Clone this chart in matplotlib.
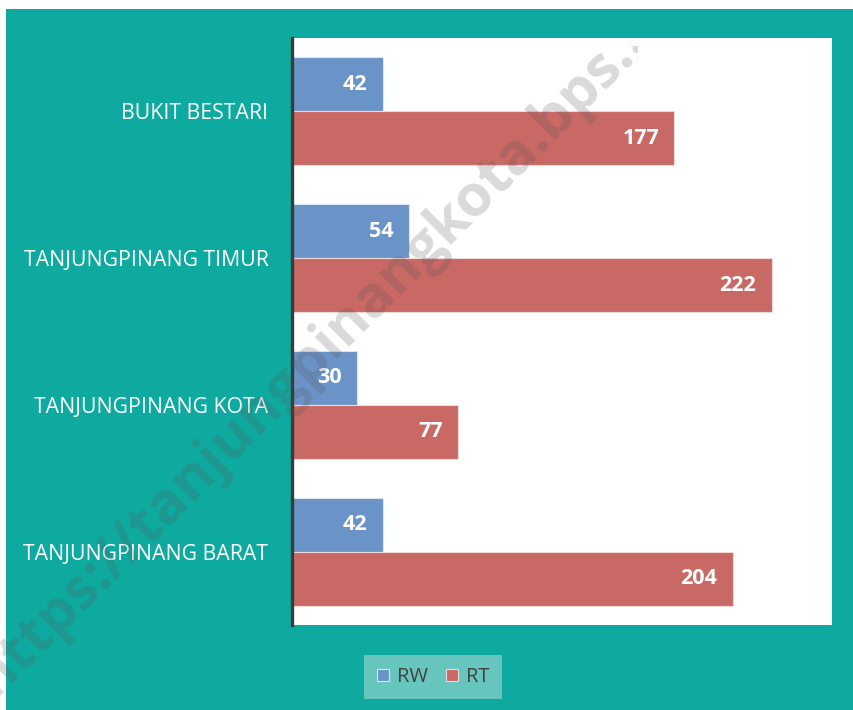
import matplotlib.pyplot as plt
from matplotlib.patches import Rectangle
from matplotlib.font_manager import FontProperties
from matplotlib.transforms import Bbox, TransformedBbox
import numpy as np

# Data
kecamatan = ["BUKIT BESTARI", "TANJUNGPINANG TIMUR",
             "TANJUNGPINANG KOTA", "TANJUNGPINANG BARAT"]
rw = [42, 54, 30, 42]
rt = [177, 222, 77, 204]

teal = "#0eaaa0"
blue = "#6a93c8"
red = "#c96965"

plt.rcParams['font.family'] = ['Open Sans', 'DejaVu Sans']

fig = plt.figure(figsize=(8.54, 7.10), dpi=100, facecolor="white")
# teal chart background (thin white margin top/left like the screenshot)
fig.patches.append(Rectangle((6 / 854, 0), 1, (710 - 9) / 710,
                             transform=fig.transFigure, facecolor=teal,
                             edgecolor="none", zorder=-10))

ax = fig.add_axes([292 / 854, 1 - 625 / 710, (832 - 292) / 854, (625 - 38) / 710])
ax.set_facecolor("white")

y = np.arange(len(kecamatan))
h = 0.368
b1 = ax.barh(y - h / 2, rw, height=h, color=blue, edgecolor="#dde6f2", linewidth=0.8, label="RW")
b2 = ax.barh(y + h / 2, rt, height=h, color=red, edgecolor="#f0d8d7", linewidth=0.8, label="RT")

for bars, vals in ((b1, rw), (b2, rt)):
    for bar, v in zip(bars, vals):
        ax.annotate(str(v), (v, bar.get_y() + bar.get_height() / 2),
                    xytext=(-11, 0), textcoords="offset points",
                    ha="right", va="center", color="white",
                    fontsize=15.5, fontweight="bold")

ax.set_xlim(0, 250)
ax.set_ylim(3.5, -0.5)
ax.set_yticks(y)
ax.set_yticklabels(kecamatan, color="white", fontsize=15.3)
ax.tick_params(axis="y", length=0, pad=17)
ax.set_xticks([])
for s in ["top", "right", "bottom"]:
    ax.spines[s].set_visible(False)
ax.spines["left"].set_color("#3a3a3a")
ax.spines["left"].set_linewidth(2.4)

leg = fig.legend(loc="center", bbox_to_anchor=(433 / 854, 1 - 677 / 710),
                 ncol=2, frameon=True, fancybox=False, fontsize=14.5,
                 handlelength=0.6, handleheight=0.6, handletextpad=0.4,
                 columnspacing=0.9, borderpad=0.6)
leg.get_frame().set_facecolor("#66c6be")
leg.get_frame().set_edgecolor("none")
leg.get_frame().set_alpha(1)
for t in leg.get_texts():
    t.set_color("#404040")

# watermark: size and place it so two letters "a" land where they sit in the screenshot
wm = "https://tanjungpinangkota.bps.go.id"
renderer = fig.canvas.get_renderer()
prop = FontProperties(family="Open Sans", weight="bold", size=40)


def char_mid(i, p):
    w0 = renderer.get_text_width_height_descent(wm[:i], p, ismath=False)[0] if i else 0
    wc = renderer.get_text_width_height_descent(wm[i], p, ismath=False)[0]
    return w0 + wc / 2


d40 = char_mid(24, prop) - char_mid(9, prop)
size = 40 * 493.6 / d40
prop = FontProperties(family="Open Sans", weight="bold", size=size)
em = size * fig.dpi / 72
ang = np.deg2rad(45)
direc = np.array([np.cos(ang), np.sin(ang)])
down = np.array([np.sin(ang), -np.cos(ang)])
p24 = np.array([517, 710 - 153]) + down * 0.27 * em
start = p24 - direc * char_mid(24, prop)
wt = fig.text(start[0] / 854, start[1] / 710, wm, rotation=45, rotation_mode="anchor",
              ha="left", va="baseline", fontproperties=prop,
              color="#555555", alpha=0.22, zorder=10)
# the screenshot only shows the watermark up to "bps."
wt.set_clip_box(TransformedBbox(Bbox([[0, 0], [638 / 854, 1 - 46 / 710]]), fig.transFigure))

fig.savefig("out.png", dpi=100, facecolor=fig.get_facecolor())
